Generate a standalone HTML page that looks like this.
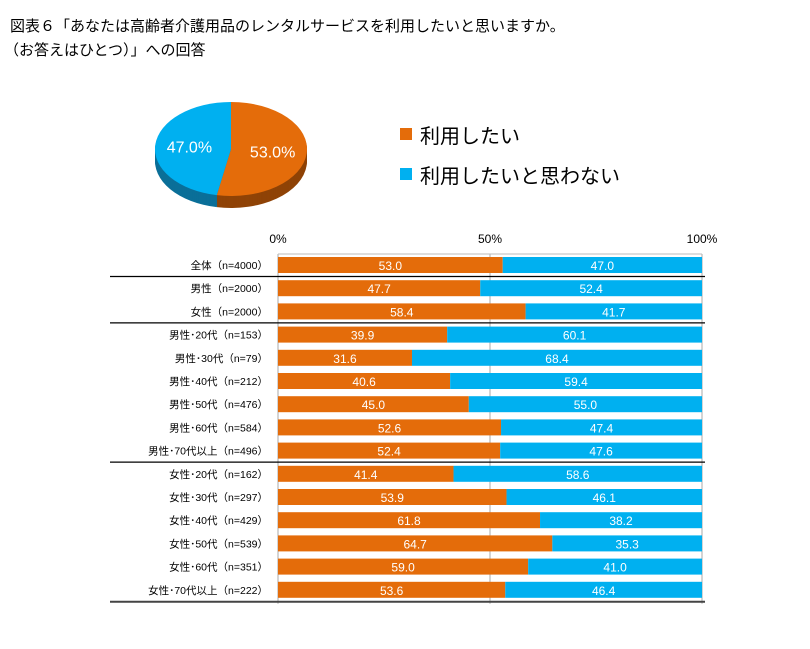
<!DOCTYPE html>
<html><head><meta charset="utf-8"><style>
body{margin:0;background:#fff;font-family:"Liberation Sans","Noto Sans CJK JP",sans-serif}
svg text{font-family:"Liberation Sans","Noto Sans CJK JP",sans-serif}
</style></head><body>
<svg width="810" height="644">
<text x="10" y="31" font-size="15">図表６「あなたは高齢者介護用品のレンタルサービスを利用したいと思いますか。</text>
<text x="4" y="55" font-size="15">（お答えはひとつ）」への回答</text>
<g id="pie"></g>
<rect x="400" y="128" width="12" height="12" fill="#E46C0A"/>
<text x="420" y="143" font-size="20">利用したい</text>
<rect x="400" y="168" width="12" height="12" fill="#00B0F0"/>
<text x="420" y="183" font-size="20">利用したいと思わない</text>
<g id="bars"></g>
</svg>
<script>
const pieValues=[53.0,47.0];
const categories=["全体（n=4000）","男性（n=2000）","女性（n=2000）","男性･20代（n=153）","男性･30代（n=79）","男性･40代（n=212）","男性･50代（n=476）","男性･60代（n=584）","男性･70代以上（n=496）","女性･20代（n=162）","女性･30代（n=297）","女性･40代（n=429）","女性･50代（n=539）","女性･60代（n=351）","女性･70代以上（n=222）"];
const yesValues=[53.0,47.7,58.4,39.9,31.6,40.6,45.0,52.6,52.4,41.4,53.9,61.8,64.7,59.0,53.6];
const noValues=[47.0,52.4,41.7,60.1,68.4,59.4,55.0,47.4,47.6,58.6,46.1,38.2,35.3,41.0,46.4];
const tickValues=[0,50,100];
const separatorsAfter=[0,2,8];
const NS="http://www.w3.org/2000/svg";
function mk(p,t,a){const e=document.createElementNS(NS,t);for(const k in a)e.setAttribute(k,a[k]);p.appendChild(e);return e;}
// pie
const pie=document.getElementById('pie');
const cx=231,cy=149,rx=76,ry=47,depth=12;
const cols=["#E46C0A","#00B0F0"],dark=["#8f4306","#0a6f98"];
const total=pieValues.reduce((a,b)=>a+b,0);
function slicePath(a0,a1,dy){const p=a=>[cx+rx*Math.sin(a),cy+dy-ry*Math.cos(a)];const s=p(a0),e=p(a1);const large=(a1-a0)>Math.PI?1:0;return `M${cx},${cy+dy}L${s[0]},${s[1]}A${rx},${ry} 0 ${large} 1 ${e[0]},${e[1]}Z`;}
for(let d=depth;d>=1;d--){let a=0;pieValues.forEach((v,i)=>{const a1=a+v/total*2*Math.PI;const el=mk(pie,'path',{d:slicePath(a,a1,d),fill:dark[i]});a=a1;});}
{let a=0;pieValues.forEach((v,i)=>{const a1=a+v/total*2*Math.PI;const el=mk(pie,'path',{d:slicePath(a,a1,0),fill:cols[i]});
const m=(a+a1)/2;const t=mk(pie,'text',{x:cx+rx*0.55*Math.sin(m),y:cy-ry*0.55*Math.cos(m)+6,'text-anchor':'middle','font-size':16,fill:'#fff'});t.textContent=v.toFixed(1)+'%';a=a1;});}
// bars
const g=document.getElementById('bars');
const x0=278,x1=702,yTop=254,pitch=23.2,bh=16;
const X=v=>x0+(x1-x0)*v/100;
const rowY=i=>yTop+3+i*pitch;
tickValues.forEach(t=>{const tx=mk(g,'text',{x:X(t),y:243,'text-anchor':'middle','font-size':12});tx.textContent=t+'%';
const l=mk(g,'line',{x1:X(t),x2:X(t),y1:yTop,y2:rowY(categories.length-1)+bh+6,stroke:'#aaa','stroke-width':1});});
mk(g,'line',{x1:x0,x2:x1,y1:yTop,y2:yTop,stroke:'#bbb'});
categories.forEach((c,i)=>{const y=rowY(i);
const r1=mk(g,'rect',{x:X(0),y:y,width:X(yesValues[i])-X(0),height:bh,fill:'#E46C0A'});
const w2=Math.min(X(yesValues[i]+noValues[i]),x1)-X(yesValues[i]);
const r2=mk(g,'rect',{x:X(yesValues[i]),y:y,width:w2,height:bh,fill:'#00B0F0'});
const t1=mk(g,'text',{x:(X(0)+X(yesValues[i]))/2,y:y+13,'text-anchor':'middle','font-size':12,fill:'#fff'});t1.textContent=yesValues[i].toFixed(1);
const t2=mk(g,'text',{x:X(yesValues[i])+w2/2,y:y+13,'text-anchor':'middle','font-size':12,fill:'#fff'});t2.textContent=noValues[i].toFixed(1);
const lb=mk(g,'text',{x:268,y:y+12,'text-anchor':'end','font-size':10.5});lb.textContent=c;
});
separatorsAfter.forEach(i=>{const y=rowY(i)+bh+3.5;const l=mk(g,'line',{x1:110,x2:705,y1:y,y2:y,stroke:'#000','stroke-width':1.2});});
const yb=rowY(categories.length-1)+bh+4;
const lb=mk(g,'line',{x1:110,x2:705,y1:yb,y2:yb,stroke:'#444','stroke-width':2});
</script>
</body></html>
